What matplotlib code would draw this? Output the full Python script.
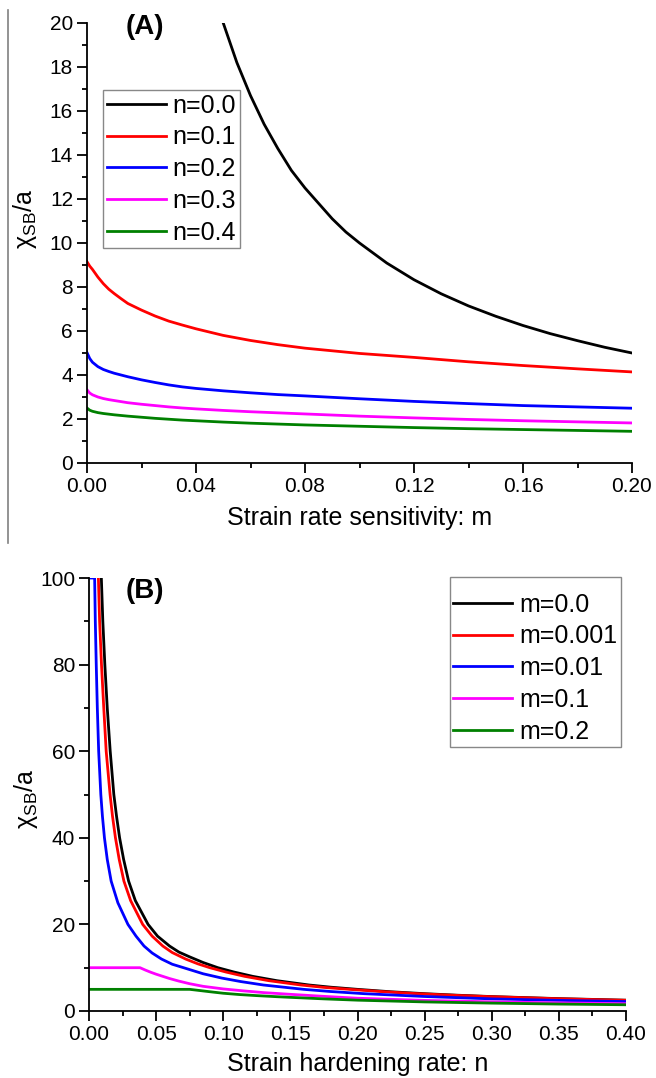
import matplotlib
matplotlib.use("Agg")
import matplotlib.pyplot as plt
from matplotlib.ticker import MultipleLocator, FormatStrFormatter
from matplotlib.lines import Line2D

plt.rcParams['font.family'] = ['Liberation Sans', 'DejaVu Sans']
plt.rcParams['mathtext.fontset'] = 'custom'
plt.rcParams['mathtext.rm'] = 'Liberation Sans'
plt.rcParams['mathtext.it'] = 'Liberation Sans:italic'

# ---------------- Panel A data: chi_SB/a vs m ----------------
m_a = [0, 0.001, 0.002, 0.004, 0.006, 0.008, 0.01, 0.0125, 0.015, 0.02, 0.025,
       0.03, 0.035, 0.04, 0.05, 0.06, 0.07, 0.08, 0.1, 0.12, 0.14, 0.16, 0.18, 0.2]
a_n01 = [9.15, 8.95, 8.8, 8.45, 8.15, 7.9, 7.7, 7.47, 7.25, 6.95, 6.68,
         6.45, 6.27, 6.1, 5.8, 5.57, 5.38, 5.22, 4.98, 4.8, 4.6, 4.43, 4.28, 4.14]
a_n02 = [5.02, 4.75, 4.58, 4.38, 4.25, 4.16, 4.08, 4.0, 3.92, 3.78, 3.66,
         3.55, 3.46, 3.39, 3.28, 3.19, 3.11, 3.05, 2.92, 2.8, 2.7, 2.61, 2.55, 2.49]
a_n03 = [3.33, 3.18, 3.1, 3.0, 2.93, 2.88, 2.84, 2.79, 2.74, 2.67, 2.61,
         2.55, 2.5, 2.46, 2.39, 2.33, 2.28, 2.23, 2.13, 2.05, 1.98, 1.92, 1.87, 1.82]
a_n04 = [2.5, 2.4, 2.35, 2.29, 2.25, 2.22, 2.19, 2.16, 2.13, 2.08, 2.03,
         1.99, 1.95, 1.92, 1.86, 1.81, 1.77, 1.73, 1.67, 1.61, 1.56, 1.52, 1.48, 1.44]
m_a0 = [0.05, 0.055, 0.06, 0.065, 0.07, 0.075, 0.08, 0.085, 0.09, 0.095, 0.1,
        0.11, 0.12, 0.13, 0.14, 0.15, 0.16, 0.17, 0.18, 0.19, 0.2]
a_n00 = [20, 18.2, 16.7, 15.4, 14.3, 13.3, 12.5, 11.8, 11.1, 10.5, 10,
         9.09, 8.33, 7.69, 7.14, 6.67, 6.25, 5.88, 5.56, 5.26, 5.0]
labels_a = ['n=0.0', 'n=0.1', 'n=0.2', 'n=0.3', 'n=0.4']

# ---------------- Panel B data: chi_SB/a vs n ----------------
n_b0 = [0.0085, 0.0092, 0.0103, 0.0118, 0.0136, 0.0158, 0.0185, 0.0205, 0.0228,
        0.0258, 0.0295, 0.0345, 0.044, 0.051, 0.06, 0.067, 0.075, 0.085, 0.096,
        0.108, 0.122, 0.14, 0.164, 0.18, 0.2, 0.225, 0.25, 0.275, 0.3, 0.35, 0.4]
b_m0 = [108, 100, 90, 80, 70, 60, 50, 45, 40,
        35, 30, 25.5, 20, 17.3, 15, 13.6, 12.5, 11.2, 10,
        9, 8, 7, 6, 5.5, 5, 4.44, 4, 3.64, 3.33, 2.86, 2.5]
n_b1 = [0.0064, 0.007, 0.0079, 0.0093, 0.011, 0.0128, 0.0157, 0.0175, 0.0197,
        0.0225, 0.026, 0.031, 0.04, 0.047, 0.055, 0.062, 0.072, 0.081, 0.09,
        0.102, 0.116, 0.134, 0.158, 0.175, 0.194, 0.22, 0.245, 0.27, 0.3, 0.35, 0.4]
b_m0001 = [108, 100, 90, 80, 70, 60, 50, 45, 40,
           35, 30, 25.5, 20, 17.3, 15, 13.5, 12, 10.9, 10,
           9, 8, 7, 6, 5.45, 5, 4.45, 4, 3.65, 3.3, 2.83, 2.47]
n_b2 = [0, 0.0042, 0.0047, 0.0054, 0.0062, 0.0072, 0.0088, 0.01, 0.0115,
        0.0136, 0.0165, 0.0215, 0.029, 0.035, 0.041, 0.047, 0.054, 0.062, 0.072,
        0.085, 0.099, 0.113, 0.13, 0.16, 0.18, 0.205, 0.25, 0.3, 0.35, 0.4]
b_m001 = [100, 100, 90, 80, 70, 60, 50, 45, 40,
          35, 30, 25, 20, 17.3, 15, 13.4, 12, 10.8, 9.85,
          8.6, 7.6, 6.8, 6, 5, 4.5, 4, 3.35, 2.8, 2.45, 2.18]
n_b3 = [0, 0.038, 0.042, 0.046, 0.05, 0.055, 0.06, 0.067, 0.075, 0.085, 0.1,
        0.115, 0.13, 0.15, 0.175, 0.2, 0.25, 0.3, 0.35, 0.4]
b_m01 = [10, 10, 9.45, 8.95, 8.5, 8.0, 7.5, 6.9, 6.3, 5.7, 5.1,
         4.65, 4.25, 3.85, 3.38, 2.95, 2.45, 2.12, 1.88, 1.68]
n_b4 = [0, 0.075, 0.08, 0.09, 0.1, 0.112, 0.125, 0.14, 0.15, 0.175, 0.2,
        0.25, 0.3, 0.35, 0.4]
b_m02 = [5, 5, 4.82, 4.45, 4.1, 3.8, 3.55, 3.3, 3.15, 2.8, 2.5,
         2.1, 1.82, 1.6, 1.44]
labels_b = ['m=0.0', 'm=0.001', 'm=0.01', 'm=0.1', 'm=0.2']

colors = ['#000000', '#ff0000', '#0000ff', '#ff00ff', '#008000']
LW = 2.0

fig = plt.figure(figsize=(6.56, 10.78), dpi=100)
axA = fig.add_axes([87/656, 1-463/1078, 545/656, 440/1078])
axB = fig.add_axes([89/656, 1-1011/1078, 537/656, 433/1078])

def style(ax):
    for s in ['top', 'right']:
        ax.spines[s].set_visible(False)
    for s in ['left', 'bottom']:
        ax.spines[s].set_linewidth(1.3)
    ax.tick_params(which='major', direction='out', length=7, width=1.3,
                   labelsize=15, pad=3)
    ax.tick_params(which='minor', direction='out', length=3.5, width=1.3)

leg_kw = dict(fontsize=18, frameon=True, fancybox=False, edgecolor='#888888',
              framealpha=1, borderaxespad=0, borderpad=0.15, labelspacing=0.31,
              handlelength=2.35, handletextpad=0.28)

# Panel A
axA.plot(m_a0, a_n00, color=colors[0], lw=LW, label=labels_a[0])
axA.plot(m_a, a_n01, color=colors[1], lw=LW, label=labels_a[1])
axA.plot(m_a, a_n02, color=colors[2], lw=LW, label=labels_a[2])
axA.plot(m_a, a_n03, color=colors[3], lw=LW, label=labels_a[3])
axA.plot(m_a, a_n04, color=colors[4], lw=LW, label=labels_a[4])
axA.set_xlim(0, 0.2)
axA.set_ylim(0, 20)
axA.xaxis.set_major_locator(MultipleLocator(0.04))
axA.xaxis.set_minor_locator(MultipleLocator(0.02))
axA.yaxis.set_major_locator(MultipleLocator(2))
axA.yaxis.set_minor_locator(MultipleLocator(1))
axA.xaxis.set_major_formatter(FormatStrFormatter('%.2f'))
style(axA)
axA.set_xlabel('Strain rate sensitivity: m', fontsize=18, labelpad=7)
axA.set_ylabel(r'$\mathregular{\chi_{SB}}$/a', fontsize=18)
axA.yaxis.set_label_coords(-0.088, 0.555)
axA.text(0.106, 0.991, '(A)', transform=axA.transAxes, fontsize=20,
         fontweight='bold', ha='center', va='center', clip_on=False)
legA = axA.legend(loc='upper left', bbox_to_anchor=(0.0294, 0.848), **leg_kw)
legA.get_frame().set_linewidth(1.0)

# Panel B
axB.plot(n_b0, b_m0, color=colors[0], lw=LW, label=labels_b[0])
axB.plot(n_b1, b_m0001, color=colors[1], lw=LW, label=labels_b[1])
axB.plot(n_b2, b_m001, color=colors[2], lw=LW, label=labels_b[2])
axB.plot(n_b3, b_m01, color=colors[3], lw=LW, label=labels_b[3])
axB.plot(n_b4, b_m02, color=colors[4], lw=LW, label=labels_b[4])
axB.set_xlim(0, 0.4)
axB.set_ylim(0, 100)
axB.xaxis.set_major_locator(MultipleLocator(0.05))
axB.xaxis.set_minor_locator(MultipleLocator(0.025))
axB.yaxis.set_major_locator(MultipleLocator(20))
axB.yaxis.set_minor_locator(MultipleLocator(10))
axB.xaxis.set_major_formatter(FormatStrFormatter('%.2f'))
style(axB)
axB.set_xlabel('Strain hardening rate: n', fontsize=18, labelpad=6)
axB.set_ylabel(r'$\mathregular{\chi_{SB}}$/a', fontsize=18)
axB.yaxis.set_label_coords(-0.092, 0.49)
axB.text(0.104, 0.970, '(B)', transform=axB.transAxes, fontsize=20,
         fontweight='bold', ha='center', va='center', clip_on=False)
legB = axB.legend(loc='upper right', bbox_to_anchor=(0.9907, 1.0023),
                  title=' ', title_fontsize=2, **leg_kw)
legB.get_frame().set_linewidth(1.0)

# thin grey divider line at the left edge of the upper panel
fig.add_artist(Line2D([7.5/656, 7.5/656], [1-10/1078, 1-543/1078],
                      transform=fig.transFigure, color='#808080', lw=1.2))

fig.savefig('out.png', dpi=100)
